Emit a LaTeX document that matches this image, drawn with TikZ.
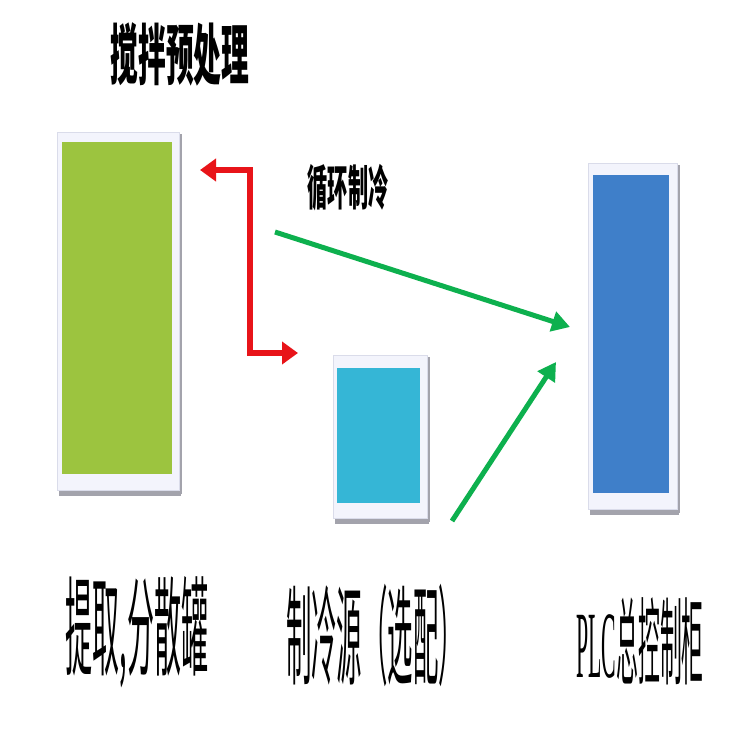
\documentclass[tikz,border=0pt]{standalone}
\usepackage{fontspec}
\usepackage{graphicx}
\newfontfamily\cjk{Noto Sans CJK SC}
\newfontfamily\latserif{Liberation Serif}
\usetikzlibrary{arrows.meta}
\definecolor{barGreen}{HTML}{9CC43F}
\definecolor{barCyan}{HTML}{35B6D6}
\definecolor{barBlue}{HTML}{3F7FC9}
\definecolor{frameFill}{HTML}{F3F4FC}
\definecolor{frameEdge}{HTML}{DADCEA}
\definecolor{shadowGray}{HTML}{A3A3AC}
\definecolor{arrRed}{HTML}{E81419}
\definecolor{arrGreen}{HTML}{0DB04E}
\tikzset{
  framebox/.style={fill=frameFill, draw=frameEdge, line width=1pt},
  redarrow/.style={draw=arrRed, line width=6pt, {Triangle[length=16pt,width=22pt]}-{Triangle[length=16pt,width=22pt]}},
  greenarrow/.style={draw=arrGreen, line width=5pt, -{Triangle[length=18pt,width=20pt]}},
  lbl/.style={inner sep=0pt, text=black}
}
\newcommand{\narrow}[3]{\scalebox{#1}[1]{\fontsize{#2}{#2}\selectfont #3}}
\begin{document}
\begin{tikzpicture}[x=1pt,y=-1pt]
\useasboundingbox (0,0) rectangle (750,750);
\fill[white] (0,0) rectangle (750,750);
% green tank
\fill[shadowGray] (59,486) rectangle (181,496);
\fill[shadowGray] (178,134) rectangle (182,494);
\draw[framebox] (57,132) rectangle (179,490);
\node[fill=barGreen, inner sep=0pt, minimum width=110pt, minimum height=332pt, anchor=north west] (tank) at (62,142) {};
% cyan source
\fill[shadowGray] (335,515) rectangle (429,524);
\fill[shadowGray] (426,357) rectangle (430,522);
\draw[framebox] (333,355) rectangle (427,518);
\node[fill=barCyan, inner sep=0pt, minimum width=83pt, minimum height=135pt, anchor=north west] (src) at (337,368) {};
% blue cabinet
\fill[shadowGray] (590,506) rectangle (679,515);
\fill[shadowGray] (676,165) rectangle (680,513);
\draw[framebox] (588,163) rectangle (677,509);
\node[fill=barBlue, inner sep=0pt, minimum width=76pt, minimum height=318pt, anchor=north west] (plc) at (593,175) {};
% labels
\node[lbl] (tTitle) at (180,54) {\cjk\bfseries\narrow{0.42}{66}{搅拌预处理}};
\node[lbl] (tLoop) at (348,188) {\cjk\bfseries\narrow{0.42}{48}{循环制冷}};
\node[lbl] (tTank) at (137,632) {\cjk\narrow{0.25}{108}{提取,分散罐}};
\node[lbl] (tSrc) at (375,635) {\cjk\narrow{0.235}{108}{制冷源（选配）}};
\node[lbl] (tPlc) at (640,641) {\narrow{0.23}{95}{\latserif PLC\cjk 总控制柜}};
% connectors
\coordinate (rA) at (200,170);
\coordinate (rB) at (298,353);
\draw[redarrow] (rA) -- (250,170) -- (250,353) -- (rB);
\coordinate (g1s) at (275,232);
\coordinate (g1e) at (570,327);
\draw[greenarrow] (g1s) -- (g1e);
\coordinate (g2s) at (452,521);
\coordinate (g2e) at (556,362);
\draw[greenarrow] (g2s) -- (g2e);
\end{tikzpicture}
\end{document}
